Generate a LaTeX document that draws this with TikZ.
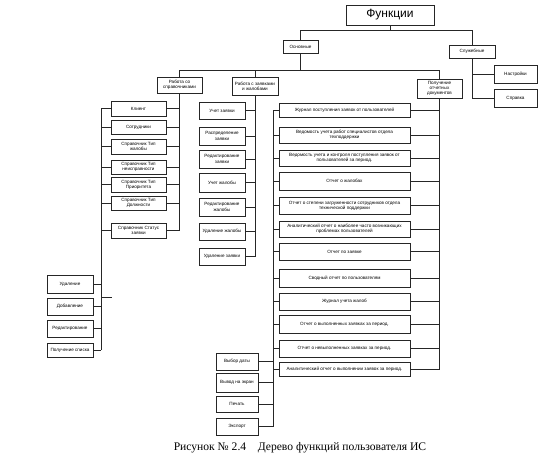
\documentclass[tikz,border=0pt]{standalone}
\usepackage{fontspec}
\setmainfont{Liberation Serif}
\newfontfamily\boxfont{Liberation Sans}
\usetikzlibrary{shadows}
\tikzset{
  box/.style={draw=black!85, line width=0.65pt, fill=white, inner sep=0pt, align=center,
    font=\boxfont\fontsize{4.6}{5.2}\selectfont,
    drop shadow={shadow xshift=0.6pt, shadow yshift=-0.6pt, fill=black!45, opacity=0.6}},
  conn/.style={draw=black!85, line width=0.75pt},
}
\newcommand\bx[6]{\node[box, minimum width={(#4-#2)*1pt}, minimum height={(#5-#3)*1pt}] (#1) at ({(#2+#4)/2},{(#3+#5)/2}) {#6};}
\begin{document}
\begin{tikzpicture}[x=1pt,y=-1pt]
\useasboundingbox (0,0) rectangle (551,460);
\fill[white] (0,0) rectangle (551,460);
% top levels
\node[box, font=\boxfont\fontsize{12}{13}\selectfont, minimum width=88pt, minimum height=20pt] (fun) at (390,15) {Функции};
\bx{osn}{283}{40}{318}{53}{Основные}
\bx{slu}{449}{45}{495}{58}{Служебные}
\bx{nas}{494}{65}{537}{83}{Настройки}
\bx{spr}{494}{89}{537}{107}{Справка}
\bx{rsp}{157}{77}{202}{93}{Работа со\\справочниками}
\bx{rza}{232}{77}{278}{95}{Работа с заявками\\и жалобами}
\bx{pol}{417}{79}{462}{98}{Получение\\отчетных\\документов}
% справочники
\bx{c1}{111}{101}{166}{116}{Клиент}
\bx{c2}{111}{120}{166}{134}{Сотрудники}
\bx{c3}{111}{139}{166}{154}{Справочник Тип\\жалобы}
\bx{c4}{111}{160}{166}{174}{Справочник Тип\\неисправности}
\bx{c5}{111}{177}{166}{192}{Справочник Тип\\Приоритета}
\bx{c6}{111}{196}{166}{210}{Справочник Тип\\Должности}
\bx{c7}{111}{223}{166}{238}{Справочник Статус\\заявки}
% операции
\bx{o1}{47}{275}{93}{293}{Удаление}
\bx{o2}{47}{298}{93}{315}{Добавление}
\bx{o3}{47}{320}{93}{337}{Редактирование}
\bx{o4}{47}{343}{93}{357}{Получение списка}
% заявки
\bx{z1}{199}{102}{245}{119}{Учет заявки}
\bx{z2}{199}{127}{245}{145}{Распределение\\заявки}
\bx{z3}{199}{150}{245}{168}{Редактирование\\заявки}
\bx{z4}{199}{173}{245}{192}{Учет жалобы}
\bx{z5}{199}{198}{245}{216}{Редактирование\\жалобы}
\bx{z6}{199}{223}{245}{240}{Удаление жалобы}
\bx{z7}{199}{248}{245}{265}{Удаление заявки}
% отчеты
\bx{r1}{279}{103}{410}{117}{Журнал поступления заявок от пользователей}
\bx{r2}{279}{127}{410}{143}{Ведомость учета работ специалистов отдела\\техподдержки}
\bx{r3}{279}{150}{410}{166}{Ведомость учета и контроля поступления заявок от\\пользователей за период.}
\bx{r4}{279}{172}{410}{190}{Отчет о жалобах}
\bx{r5}{279}{197}{410}{214}{Отчет о степени загруженности сотрудников отдела\\технической поддержки}
\bx{r6}{279}{221}{410}{237}{Аналитический отчет о наиболее часто возникающих\\проблемах пользователей}
\bx{r7}{279}{243}{410}{260}{Отчет по заявке}
\bx{r8}{279}{269}{410}{287}{Сводный отчет по пользователям}
\bx{r9}{279}{293}{410}{310}{Журнал учета жалоб}
\bx{r10}{279}{315}{410}{333}{Отчет о выполненных заявках за период.}
\bx{r11}{279}{340}{410}{357}{Отчет о невыполненных заявках за период.}
\bx{r12}{279}{362}{410}{376}{Аналитический отчет о выполнении заявок за период.}
% вывод
\bx{v1}{216}{353}{258}{370}{Выбор даты}
\bx{v2}{216}{373}{258}{392}{Вывод на экран}
\bx{v3}{216}{396}{258}{412}{Печать}
\bx{v4}{216}{418}{258}{435}{Экспорт}
% buses
\coordinate (b1) at (0,30);
\coordinate (b2) at (0,70);
\coordinate (lv) at (101,0);
\coordinate (rv) at (273,0);
\coordinate (stub) at (112,297);
% connectors
\draw[conn] (fun.south) -- (fun.south |- b1);
\draw[conn] (osn.north) |- (slu.north |- b1) -- (slu.north);
\draw[conn] (osn.south) -- (osn.south |- b2);
\draw[conn] (rsp.north) |- (pol.north |- b2) -- (pol.north);
\draw[conn] (rza.north) -- (rza.north |- b2);
\draw[conn] (slu.south) |- (nas.west);
\draw[conn] (slu.south) |- (spr.west);
\foreach \n in {c1,c2,c3,c4,c5,c6,c7} {\draw[conn] (rsp.south) |- (\n.east); \draw[conn] (\n.west) -- (\n.west -| lv);}
\draw[conn] (c1.west -| lv) -- (o4.east -| lv);
\foreach \n in {o1,o2,o3,o4} {\draw[conn] (\n.east) -- (\n.east -| lv);}
\draw[conn] (stub -| lv) -- (stub);
\foreach \n in {z1,z2,z3,z4,z5,z6,z7} {\draw[conn] (rza.south) |- (\n.east);}
\foreach \n in {r1,r2,r3,r4,r5,r6,r7,r8,r9,r10,r11,r12} {\draw[conn] (pol.south) |- (\n.east); \draw[conn] (\n.west) -- (\n.west -| rv);}
\draw[conn] (r1.west -| rv) -- (v4.east -| rv);
\foreach \n in {v1,v2,v3,v4} {\draw[conn] (\n.east) -- (\n.east -| rv);}
% caption
\node[font=\fontsize{11.6}{13}\selectfont, anchor=center] (cap) at (300,448) {Рисунок № 2.4\quad Дерево функций пользователя ИС};
\end{tikzpicture}
\end{document}
